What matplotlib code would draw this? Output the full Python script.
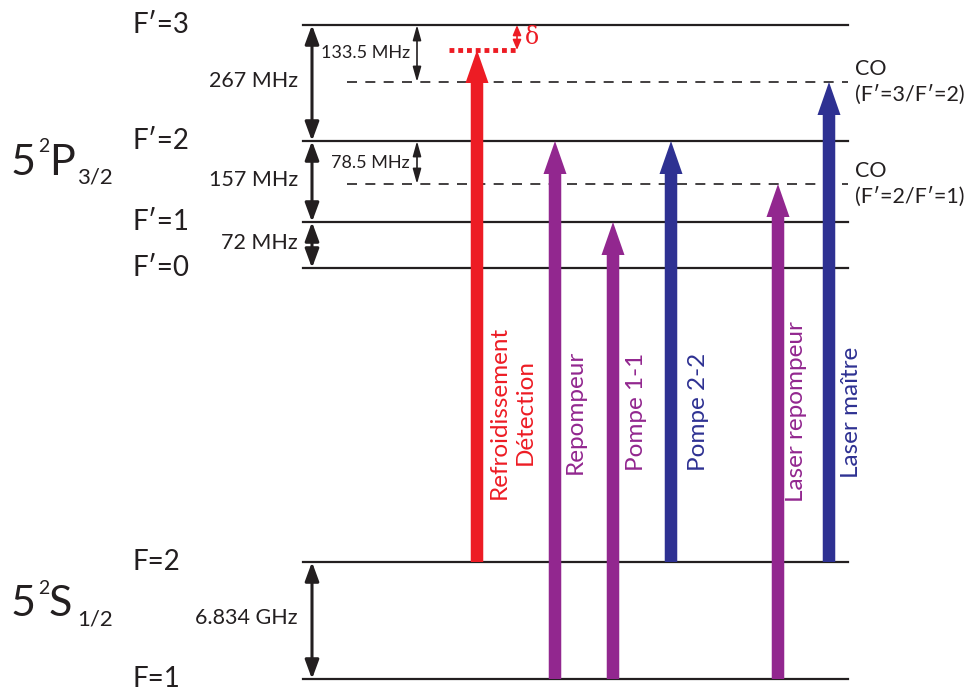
import matplotlib.pyplot as plt

plt.rcParams['font.family'] = ['Lato', 'DejaVu Sans']

# diagram heights (schematic, measured upward)
level_names = ["F=1", "F=2", "F′=0", "F′=1", "F′=2", "F′=3"]
level_y = [9, 126, 420, 466, 547, 663]
co_names = ["CO\n(F′=2/F′=1)", "CO\n(F′=3/F′=2)"]
co_y = [504, 606]
delta_y = 638

# splittings
split_labels = ["6.834 GHz", "72 MHz", "157 MHz", "267 MHz"]
split_from = [9, 420, 466, 547]
split_to = [126, 466, 547, 663]
co_split_labels = ["78.5 MHz", "133.5 MHz"]

# lasers
laser_names = ["Refroidissement\nDétection", "Repompeur", "Pompe 1-1",
               "Pompe 2-2", "Laser repompeur", "Laser maître"]
laser_from = [126, 9, 9, 126, 9, 126]
laser_to = [638, 547, 466, 547, 504, 606]
red, purple, blue = "#ED1C24", "#92278F", "#2E3192"
laser_colors = [red, purple, purple, blue, purple, blue]
laser_x = [477, 555, 613, 671, 778, 829]
label_x = [512, 575, 637, 699, 797, 852]

fig = plt.figure(figsize=(9.7, 6.88), dpi=100)
ax = fig.add_axes([0, 0, 1, 1])
ax.set_xlim(0, 970)
ax.set_ylim(0, 688)
ax.axis('off')

# levels
for name, y in zip(level_names, level_y):
    ax.plot([303, 848], [y, y], color='#231F20', lw=1.6, zorder=1)
    ax.text(133, y, name, fontsize=20, va='center', ha='left', color='#231F20')

# crossover lines
for name, y in zip(co_names, co_y):
    ax.plot([347, 848], [y, y], color='#231F20', lw=1.2, ls=(0, (6, 5)), zorder=1)
    ax.text(855, y, name, fontsize=15.5, va='center', ha='left',
            color='#231F20', linespacing=1.35)

# state names
for base, letter, sub, yc in [("5", "P", "3/2", 525), ("5", "S", "1/2", 84)]:
    ax.text(11, yc, base, fontsize=31, va='center', ha='left', color='#231F20')
    ax.text(38, yc + 16, "2", fontsize=14, va='center', ha='left', color='#231F20')
    ax.text(49, yc, letter, fontsize=31, va='center', ha='left', color='#231F20')
    ax.text(77, yc - 15, sub, fontsize=16, va='center', ha='left', color='#231F20')

# splitting arrows
for lab, y0, y1 in zip(split_labels, split_from, split_to):
    ax.annotate("", xy=(312, y1), xytext=(312, y0),
                arrowprops=dict(arrowstyle='<|-|>,head_length=0.95,head_width=0.35',
                                mutation_scale=12, lw=2.2, color='#231F20',
                                shrinkA=0, shrinkB=0))
    ax.text(298, (y0 + y1) / 2 + 2, lab, fontsize=15.5, va='center', ha='right',
            color='#231F20')

for lab, y0, y1 in zip(co_split_labels, co_y, [level_y[4], level_y[5]]):
    ax.annotate("", xy=(417, y1), xytext=(417, y0),
                arrowprops=dict(arrowstyle='<|-|>,head_length=0.9,head_width=0.25',
                                mutation_scale=10, lw=1.2, color='#231F20',
                                shrinkA=0, shrinkB=0))
    ax.text(410, (y0 + y1) / 2, lab, fontsize=13, va='center', ha='right',
            color='#231F20')

# detuning
ax.plot([449, 519], [delta_y, delta_y], color=red, lw=3.5, ls=(0, (1, 0.8)),
        solid_capstyle='butt', zorder=2)
ax.annotate("", xy=(517, level_y[5]), xytext=(517, delta_y),
            arrowprops=dict(arrowstyle='<|-|>,head_length=0.6,head_width=0.25',
                            mutation_scale=10, lw=1.2, color=red,
                            shrinkA=0, shrinkB=0))
ax.text(525, 651, "δ", fontsize=17, va='center', ha='left', color=red,
        family='DejaVu Serif')

# lasers
for name, y0, y1, c, x, lx in zip(laser_names, laser_from, laser_to,
                                  laser_colors, laser_x, label_x):
    ax.arrow(x, y0, 0, y1 - y0, width=12.5, head_width=23, head_length=33,
             length_includes_head=True, color=c, lw=0, zorder=3)
    ax.text(lx, 276, name, fontsize=17.5, rotation=90, va='center', ha='center',
            rotation_mode='anchor', color=c, linespacing=1.3)

fig.savefig("out.png", dpi=100)
